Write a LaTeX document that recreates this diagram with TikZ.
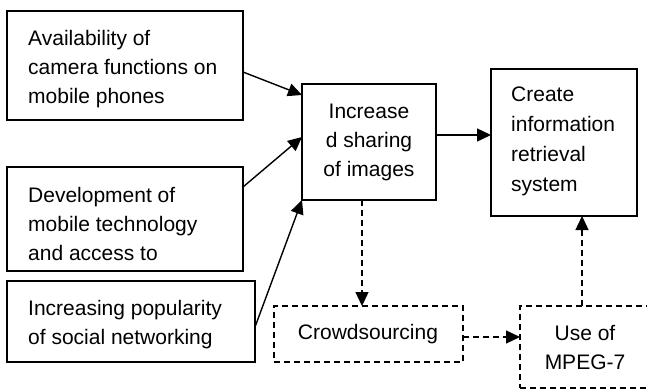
\documentclass[tikz,border=0pt]{standalone}
\usepackage{fontspec}
\setmainfont{Liberation Sans}
\usetikzlibrary{arrows.meta}
\tikzset{
  box/.style={draw, line width=1.6pt, inner sep=0pt, outer sep=0pt},
  dbox/.style={box, line width=1.4pt, dash pattern=on 6pt off 4pt},
  txt/.style={inner sep=0pt, font=\fontsize{21}{29}\selectfont},
  arr/.style={line width=1.4pt, -{Triangle[length=14pt,width=13pt]}},
  darr/.style={arr, dash pattern=on 6pt off 4pt},
}
\begin{document}
\begin{tikzpicture}[x=1pt,y=-1pt]
\useasboundingbox (0,0) rectangle (647,390);
\clip (0,0) rectangle (647,390);
% boxes
\node[box, minimum width=236pt, minimum height=109pt] (A) at (125,65.5) {};
\node[box, minimum width=236pt, minimum height=104pt] (B) at (125,219) {};
\node[box, minimum width=248pt, minimum height=81pt] (C) at (131,321.5) {};
\node[box, minimum width=134pt, minimum height=116pt] (D) at (369,142) {};
\node[box, minimum width=146pt, minimum height=147pt] (E) at (564,142.5) {};
\node[dbox, minimum width=189pt, minimum height=56pt] (Cr) at (368.5,334) {};
\node[dbox, minimum width=130pt, minimum height=82pt] (M) at (585,347) {};
% texts
\node[txt, anchor=west, align=left] (tA) at (28,69) {Availability of\\camera functions on\\mobile phones};
\node[txt, anchor=north west, align=left] (tB) at (28,186.7) {Development of\\mobile technology\\and access to};
\node[txt, anchor=west, align=left] (tC) at (28,325) {Increasing popularity\\of social networking};
\node[txt, align=center] (tD) at (369,142.5) {Increase\\d sharing\\of images};
\node[txt, anchor=west, align=left, font=\fontsize{21}{30}\selectfont] (tE) at (511,141) {Create\\information\\retrieval\\system};
\node[txt] (tCr) at (368,334.5) {Crowdsourcing};
\node[txt, align=center] (tM) at (585,347.5) {Use of\\MPEG-7};
% connectors
\draw[arr] ([yshift=-6.5pt]A.east) -- ([yshift=-11pt]D.north west);
\draw[arr] ([yshift=-20pt]B.north east) -- ([yshift=5pt]D.west);
\draw[arr] ([yshift=-5.5pt]C.east) -- (D.south west);
\draw[arr] ([yshift=7pt]D.east) -- ([yshift=7pt]D.east -| E.west);
\draw[darr] ([xshift=-7pt]D.south) -- ([xshift=-7pt]D.south |- Cr.north);
\draw[darr] ([yshift=-3pt]Cr.east) -- ([yshift=-3pt]Cr.east -| M.west);
\draw[darr] ([xshift=-3pt]M.north) -- ([xshift=-3pt]M.north |- E.south);
\end{tikzpicture}
\end{document}
